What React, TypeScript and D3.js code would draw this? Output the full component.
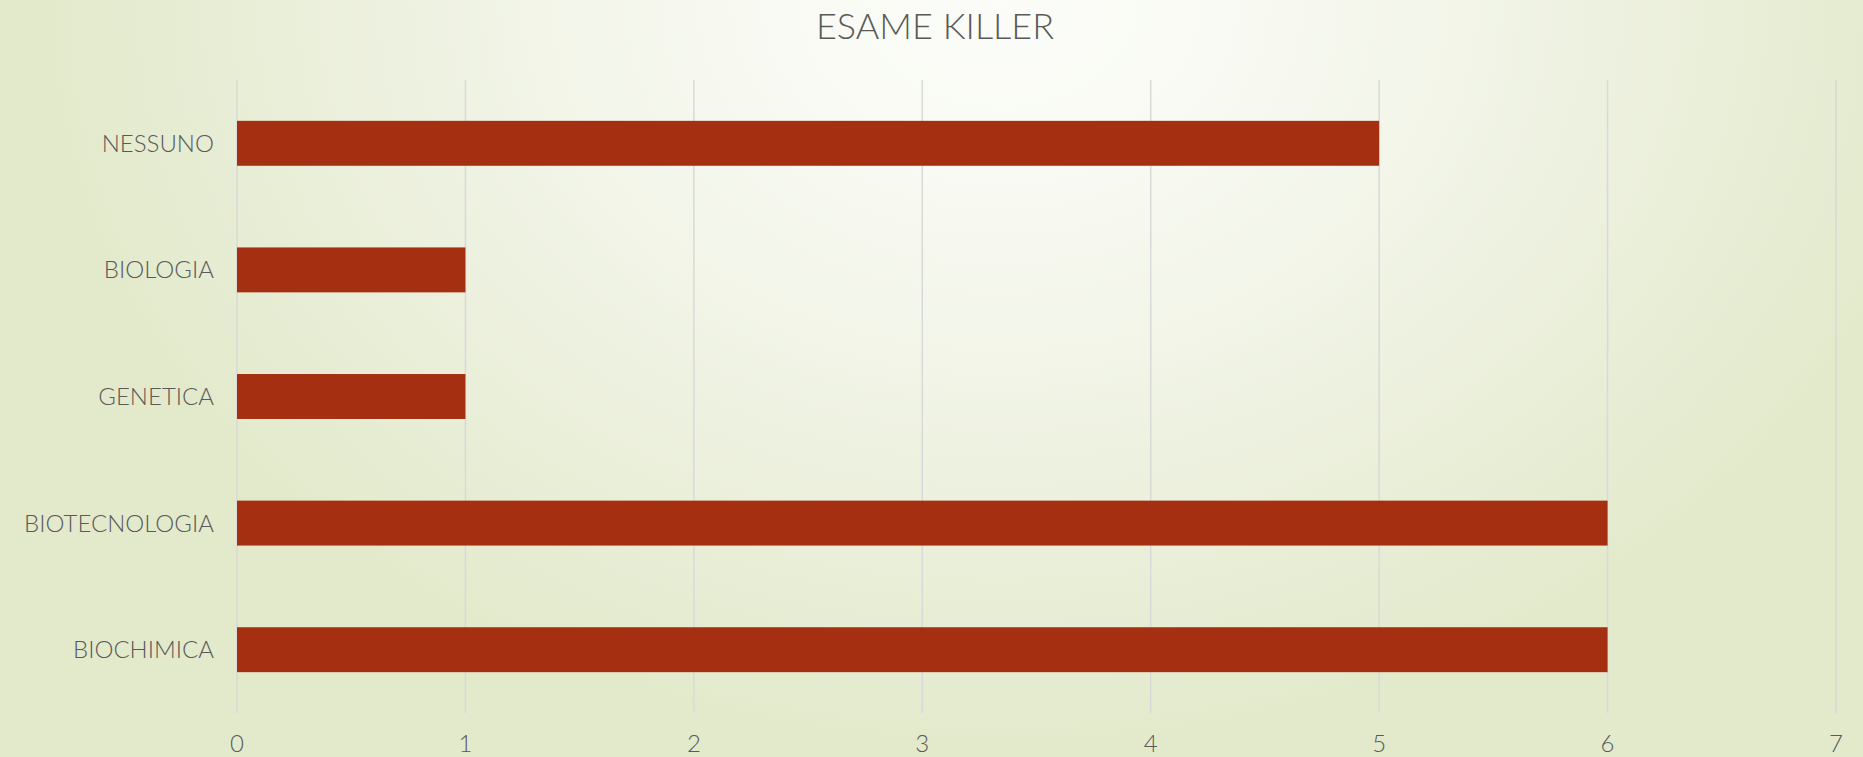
import React, { useEffect } from "react";
import * as d3 from "d3";

const categories = ["NESSUNO", "BIOLOGIA", "GENETICA", "BIOTECNOLOGIA", "BIOCHIMICA"];
const values = [5, 1, 1, 6, 6];
const xTicks = [0, 1, 2, 3, 4, 5, 6, 7];
const title = "ESAME KILLER";

const W = 1863;
const H = 757;
const margin = { left: 237, right: 27, top: 80, bottom: 44 };
const FONT = "Lato, 'Open Sans', sans-serif";
const TEXT = "#595959";

export default function App() {
  useEffect(() => {
    document.body.style.margin = "0";
  }, []);

  const x = d3.scaleLinear().domain([0, 7]).range([margin.left, W - margin.right]);
  const y = d3
    .scaleBand<string>()
    .domain(categories)
    .range([margin.top, H - margin.bottom])
    .paddingInner(0.645)
    .paddingOuter(0.3225);

  const plotTop = margin.top;
  const plotBottom = H - margin.bottom;

  return (
    <svg width={W} height={H} style={{ display: "block" }}>
      <defs>
        <radialGradient id="bg" cx="1000" cy="0" r="950" gradientUnits="userSpaceOnUse"
          gradientTransform="translate(1000 0) scale(1 0.78) translate(-1000 0)">
          <stop offset="0" stopColor="#FCFDF9" />
          <stop offset="0.3" stopColor="#F7F9F1" />
          <stop offset="0.65" stopColor="#EDF1DF" />
          <stop offset="1" stopColor="#E3EACC" />
        </radialGradient>
      </defs>
      <rect x={0} y={0} width={W} height={H} fill="#E3EACC" />
      <rect x={0} y={0} width={W} height={H} fill="url(#bg)" />

      <text x={935} y={39} textAnchor="middle" fontFamily={FONT} fontWeight={300} fontSize={36} fill={TEXT}>
        {title}
      </text>

      {xTicks.map((t) => (
        <line key={"g" + t} x1={x(t)} x2={x(t)} y1={plotTop} y2={plotBottom} stroke="#D9D9D9" strokeWidth={1.5} />
      ))}

      {categories.map((c, i) => (
        <rect key={c} x={x(0)} y={y(c)!} width={x(values[i]) - x(0)} height={y.bandwidth()} fill="#A52F11" />
      ))}

      {categories.map((c) => (
        <text key={"l" + c} x={214} y={y(c)! + y.bandwidth() / 2} dy="0.35em" textAnchor="end"
          fontFamily={FONT} fontWeight={300} fontSize={24} fill={TEXT}>
          {c}
        </text>
      ))}

      {xTicks.map((t) => (
        <text key={"t" + t} x={x(t)} y={752} textAnchor="middle" fontFamily={FONT} fontWeight={300} fontSize={24} fill={TEXT}>
          {t}
        </text>
      ))}
    </svg>
  );
}
